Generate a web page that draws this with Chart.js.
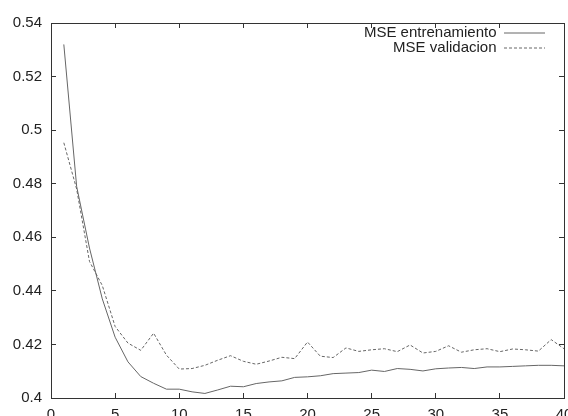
<!DOCTYPE html>
<html>
<head>
<meta charset="utf-8">
<script src="https://cdn.jsdelivr.net/npm/chart.js@4"></script>
<style>
  html, body { margin: 0; padding: 0; background: #fff; overflow: hidden; }
</style>
</head>
<body>
<canvas id="mseChart" width="600" height="440"></canvas>
<script>
// epocas
const epocas = [1, 2, 3, 4, 5, 6, 7, 8, 9, 10,
  11, 12, 13, 14, 15, 16, 17, 18, 19, 20,
  21, 22, 23, 24, 25, 26, 27, 28, 29, 30,
  31, 32, 33, 34, 35, 36, 37, 38, 39, 40];

// MSE entrenamiento (linea continua)
const mseEntrenamiento = [0.532, 0.479, 0.456, 0.437, 0.4227, 0.4135, 0.408, 0.4055, 0.4033, 0.4033,
  0.4023, 0.4017, 0.403, 0.4044, 0.4042, 0.4054, 0.406, 0.4064, 0.4077, 0.4079,
  0.4083, 0.4091, 0.4093, 0.4095, 0.4104, 0.4099, 0.411, 0.4107, 0.4101, 0.4109,
  0.4112, 0.4114, 0.411, 0.4116, 0.4116, 0.4118, 0.412, 0.4122, 0.4122, 0.412];

// MSE validacion (linea discontinua)
const mseValidacion = [0.4953, 0.478, 0.451, 0.442, 0.4267, 0.4205, 0.4178, 0.4242, 0.416, 0.4108,
  0.411, 0.4122, 0.4141, 0.4158, 0.4137, 0.4126, 0.4138, 0.4152, 0.4147, 0.4209,
  0.4156, 0.4151, 0.4187, 0.4174, 0.418, 0.4184, 0.4173, 0.4198, 0.4168, 0.4174,
  0.4195, 0.4171, 0.418, 0.4184, 0.4173, 0.4183, 0.418, 0.4175, 0.4218, 0.4184];

const nombres = ['MSE entrenamiento', 'MSE validacion'];

// ejes
const xMin = 0, xMax = 40, xPaso = 5;
const yMin = 0.4, yMax = 0.54, yPaso = 0.02;

Chart.defaults.font.family = "'Liberation Sans', Arial, sans-serif";
Chart.defaults.font.size = 15;
Chart.defaults.color = '#222';

function puntos(valores) {
  return valores.map((v, i) => ({ x: epocas[i], y: v }));
}

// leyenda dentro del grafico, arriba a la derecha
const leyendaDentro = {
  id: 'leyendaDentro',
  afterLayout(chart) {
    const lg = chart.legend;
    const area = chart.chartArea;
    lg.right = area.right - 19;
    lg.left = lg.right - lg.width;
    lg.top = area.top + 2.5;
    lg.bottom = lg.top + lg.height;
  }
};

// ejes estilo gnuplot: ticks hacia dentro, sin rejilla
function ejeBase(pos) {
  return {
    type: 'linear',
    position: pos,
    grid: { drawOnChartArea: false, drawTicks: true, tickLength: -5, color: '#333', lineWidth: 1 },
    border: { display: true, color: '#333', width: 1 }
  };
}

const x = Object.assign(ejeBase('bottom'), {
  min: xMin, max: xMax,
  ticks: { stepSize: xPaso, padding: 13, maxRotation: 0, autoSkip: false },
  afterFit: s => { s.height = 42; }
});
const x2 = Object.assign(ejeBase('top'), {
  min: xMin, max: xMax,
  ticks: { stepSize: xPaso, display: false },
  afterFit: s => { s.height = 0; }
});
const y = Object.assign(ejeBase('left'), {
  min: yMin, max: yMax,
  ticks: { stepSize: yPaso, padding: 14, callback: v => String(+v.toFixed(2)) },
  afterFit: s => { s.width = 51; }
});
const y2 = Object.assign(ejeBase('right'), {
  min: yMin, max: yMax,
  ticks: { stepSize: yPaso, display: false },
  afterFit: s => { s.width = 0; }
});

new Chart(document.getElementById('mseChart'), {
  type: 'line',
  data: {
    datasets: [{
      label: nombres[0],
      data: puntos(mseEntrenamiento),
      borderColor: '#666',
      borderWidth: 1,
      pointRadius: 0,
      tension: 0,
      fill: false
    }, {
      label: nombres[1],
      data: puntos(mseValidacion),
      borderColor: '#666',
      borderWidth: 1,
      borderDash: [3, 2],
      pointRadius: 0,
      tension: 0,
      fill: false
    }]
  },
  options: {
    responsive: false,
    animation: false,
    devicePixelRatio: 1,
    layout: { padding: { top: 20, right: 36, left: 0, bottom: 0 } },
    scales: { x: x, x2: x2, y: y, y2: y2 },
    plugins: {
      legend: {
        position: 'chartArea',
        align: 'start',
        rtl: true,
        labels: {
          usePointStyle: true,
          pointStyle: 'line',
          pointStyleWidth: 41,
          padding: 0,
          color: '#222',
          font: { size: 15 },
          // la muestra de linea toma el trazo de cada serie
          generateLabels: chart => Chart.defaults.plugins.legend.labels.generateLabels(chart).map((item, i) => {
            const ds = chart.data.datasets[i];
            item.strokeStyle = ds.borderColor;
            item.lineDash = ds.borderDash || [];
            item.lineWidth = ds.borderWidth;
            return item;
          })
        }
      },
      tooltip: { enabled: false }
    }
  },
  plugins: [leyendaDentro]
});
</script>
</body>
</html>
